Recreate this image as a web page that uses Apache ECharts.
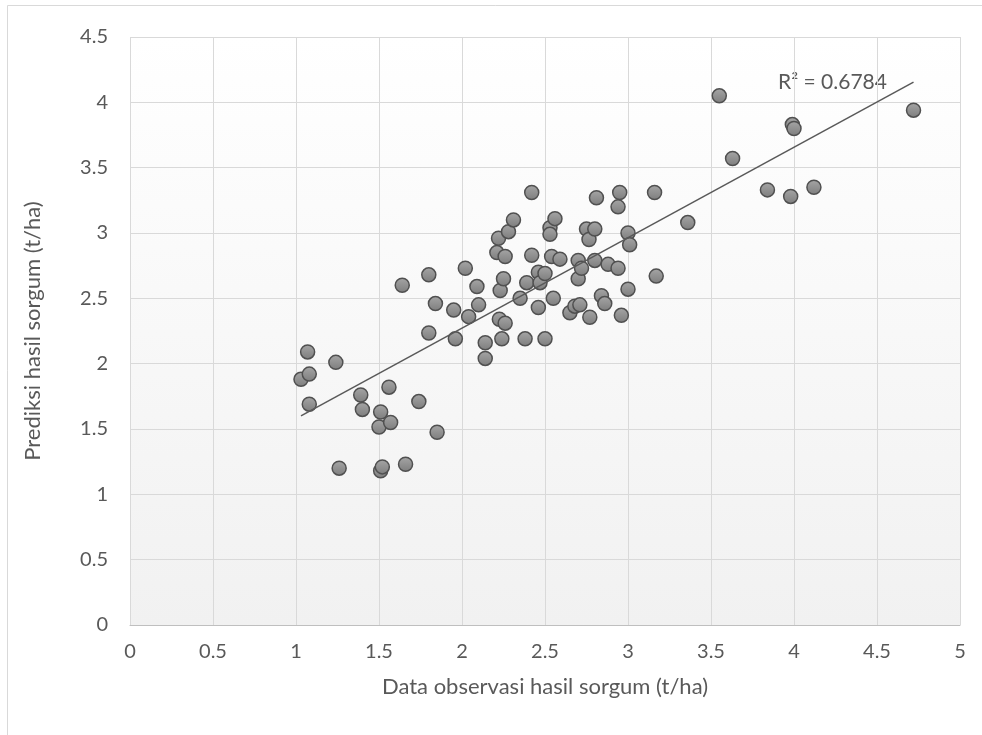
<!DOCTYPE html>
<html>
<head>
<meta charset="utf-8">
<script src="https://cdn.jsdelivr.net/npm/echarts@6/dist/echarts.min.js"></script>
<style>
  html, body { margin: 0; padding: 0; background: #fff; }
  #chart { width: 982px; height: 735px; }
</style>
</head>
<body>
<div id="chart"></div>
<script>
// Observed yield (t/ha)
const observed = [
    1.03, 1.07, 1.08, 1.08, 1.24, 1.26, 1.39, 1.40, 1.51, 1.50,
    1.56, 1.57, 1.51, 1.52, 1.66, 1.64, 1.74, 1.80, 1.80, 1.84,
    1.85, 1.95, 1.96, 2.02, 2.04, 2.09, 2.10, 2.14, 2.14, 2.21,
    2.22, 2.23, 2.25, 2.225, 2.26, 2.24, 2.26, 2.28, 2.31, 2.35,
    2.38, 2.39, 2.42, 2.42, 2.46, 2.47, 2.46, 2.50, 2.50, 2.53,
    2.53, 2.54, 2.55, 2.56, 2.59, 2.65, 2.68, 2.70, 2.70, 2.71,
    2.72, 2.75, 2.765, 2.77, 2.80, 2.80, 2.81, 2.84, 2.86, 2.88,
    2.94, 2.94, 2.95, 2.96, 3.00, 3.01, 3.00, 3.16, 3.17, 3.36,
    3.55, 3.63, 3.84, 3.98, 3.99, 4.00, 4.12, 4.72
];
// Predicted yield (t/ha)
const predicted = [
    1.88, 2.09, 1.92, 1.69, 2.01, 1.20, 1.76, 1.65, 1.63, 1.515,
    1.82, 1.55, 1.18, 1.21, 1.23, 2.60, 1.71, 2.68, 2.235, 2.46,
    1.475, 2.41, 2.19, 2.73, 2.36, 2.59, 2.45, 2.16, 2.04, 2.85,
    2.96, 2.56, 2.65, 2.34, 2.31, 2.19, 2.82, 3.01, 3.10, 2.50,
    2.19, 2.62, 2.83, 3.31, 2.70, 2.62, 2.43, 2.69, 2.19, 3.04,
    2.99, 2.82, 2.50, 3.11, 2.80, 2.39, 2.44, 2.79, 2.65, 2.45,
    2.73, 3.03, 2.95, 2.355, 3.03, 2.79, 3.27, 2.52, 2.46, 2.76,
    2.73, 3.20, 3.31, 2.37, 3.00, 2.91, 2.57, 3.31, 2.67, 3.08,
    4.05, 3.57, 3.33, 3.28, 3.83, 3.80, 3.35, 3.94
];
// Linear trend line ends as drawn
const trendX = [1.03, 4.72];
const trendY = [1.60, 4.155];
const r2Text = 'R² = 0.6784';

const xAxisName = 'Data observasi hasil sorgum (t/ha)';
const yAxisName = 'Prediksi hasil sorgum (t/ha)';

const chart = echarts.init(document.getElementById('chart'));
const font = 'Lato, "Open Sans", sans-serif';

const option = {
    backgroundColor: '#fff',
    animation: false,
    textStyle: { fontFamily: font },
    grid: {
        left: 130, right: 22, top: 37, bottom: 110,
        show: true,
        borderWidth: 0,
        backgroundColor: new echarts.graphic.LinearGradient(0, 0, 0, 1, [
            { offset: 0, color: '#ffffff' },
            { offset: 1, color: '#f1f1f1' }
        ])
    },
    graphic: [
        {
            type: 'rect',
            shape: { x: 7.5, y: 5.5, width: 990, height: 740 },
            style: { fill: 'none', stroke: '#d9d9d9', lineWidth: 1 },
            silent: true
        },
        {
            type: 'text',
            left: 778, top: 72,
            style: { text: r2Text, fill: '#595959', font: '21px ' + font }
        }
    ],
    xAxis: {
        type: 'value',
        min: 0, max: 5, interval: 0.5,
        name: xAxisName,
        nameLocation: 'middle',
        nameGap: 51,
        nameTextStyle: { color: '#595959', fontSize: 22, fontFamily: font },
        axisLine: { show: true, lineStyle: { color: '#bfbfbf', width: 1 } },
        axisTick: { show: false },
        axisLabel: { color: '#595959', fontSize: 20, margin: 17, fontFamily: font },
        splitLine: { show: true, lineStyle: { color: '#d9d9d9', width: 1 } }
    },
    yAxis: {
        type: 'value',
        min: 0, max: 4.5, interval: 0.5,
        name: yAxisName,
        nameLocation: 'middle',
        nameGap: 86,
        nameRotate: 90,
        nameTextStyle: { color: '#595959', fontSize: 22, fontFamily: font },
        axisLine: { show: false },
        axisTick: { show: false },
        axisLabel: { color: '#595959', fontSize: 20, margin: 22, fontFamily: font },
        splitLine: { show: true, lineStyle: { color: '#d9d9d9', width: 1 } }
    },
    series: [
        {
            type: 'line',
            data: trendX.map((x, i) => [x, trendY[i]]),
            symbol: 'none',
            lineStyle: { color: '#595959', width: 1.5 },
            z: 3
        },
        {
            type: 'scatter',
            data: observed.map((x, i) => [x, predicted[i]]),
            symbol: 'circle',
            symbolSize: 14,
            itemStyle: {
                color: new echarts.graphic.LinearGradient(0, 0, 0, 1, [
                    { offset: 0, color: '#a6a6a6' },
                    { offset: 1, color: '#7d7d7d' }
                ]),
                borderColor: '#505050',
                borderWidth: 1.5,
                opacity: 1
            },
            z: 2
        }
    ]
};

chart.setOption(option);
</script>
</body>
</html>
